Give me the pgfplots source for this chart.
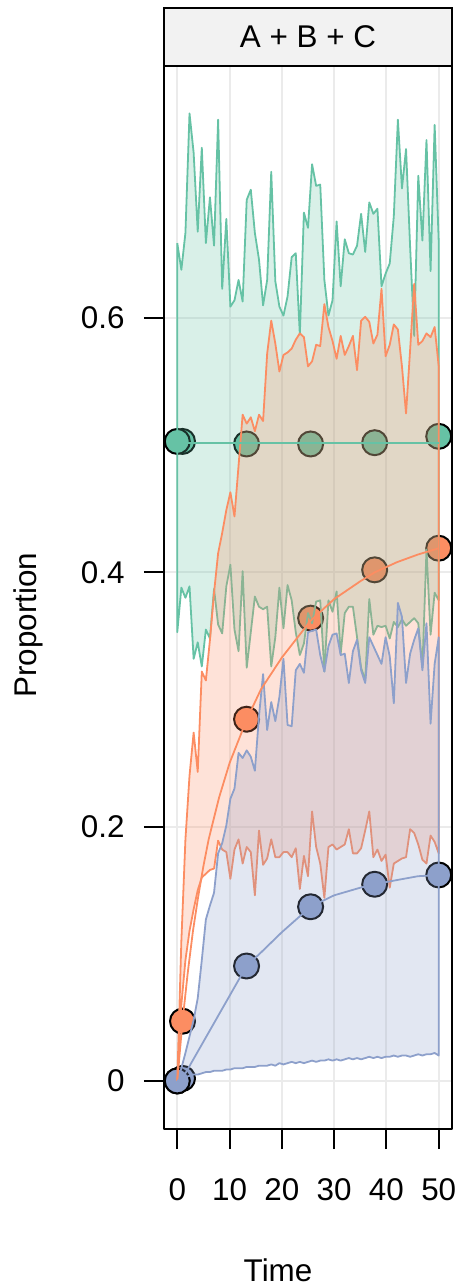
\documentclass[border=0pt]{standalone}
\usepackage{pgfplots}
\pgfplotsset{compat=1.18}
\usepackage{fontspec}
\setmainfont{Liberation Sans}
\definecolor{cg}{HTML}{66C2A5}
\definecolor{co}{HTML}{FC8D62}
\definecolor{cb}{HTML}{8DA0CB}
\definecolor{gridc}{HTML}{EBEBEB}
\definecolor{stripc}{HTML}{F2F2F2}
\newcommand{\lbfont}{\fontsize{15.7}{18}\selectfont}
\begin{document}
\lbfont
\begin{tikzpicture}
\path[use as bounding box] (-82pt,-78pt) rectangle (146.5pt,564.5pt);
\begin{axis}[
  scale only axis, width=144pt, height=531.5pt,
  xmin=-2.54, xmax=52.54, ymin=-0.0378, ymax=0.7983,
  xtick={0,10,20,30,40,50}, ytick={0,0.2,0.4,0.6},
  tick align=outside, major tick length=10pt,
  xtick pos=bottom, ytick pos=left,
  grid=major, major grid style={gridc, line width=1pt},
  axis line style={line width=1pt}, tick style={black, line width=1pt},
  /pgf/number format/assume math mode=true,
  tick label style={font=\lbfont},
  label style={font=\lbfont},
  xticklabel style={yshift=-9.3pt},
  yticklabel style={xshift=-4.3pt},
  xlabel={Time}, ylabel={Proportion},
  xlabel style={at={(axis description cs:0.396,-0.1326)}, anchor=center},
  ylabel style={at={(axis description cs:-0.472,0.474)}, anchor=center},
  clip=false, clip marker paths=true,
  line join=round,
]
% mean points (drawn beneath the bands)
\addplot[only marks, mark=*, mark size=6.25pt, mark options={fill=cg, draw=black, line width=1pt}]
  coordinates {(50,0.507) (37.75,0.502) (25.5,0.501) (13.25,0.501) (1,0.503) (0,0.503)};
\addplot[only marks, mark=*, mark size=6.25pt, mark options={fill=co, draw=black, line width=1pt}]
  coordinates {(50,0.419) (37.75,0.402) (25.5,0.364) (13.25,0.2845) (1,0.047) (0,0)};
\addplot[only marks, mark=*, mark size=6.25pt, mark options={fill=cb, draw=black, line width=1pt}]
  coordinates {(50,0.162) (37.75,0.1547) (25.5,0.137) (13.25,0.0904) (1,0.002) (0,0)};
% green band
\addplot[draw=cg, line width=0.9pt, fill=cg, fill opacity=0.25] coordinates {
(0,0.659) (0.78,0.638) (1.56,0.667) (2.34,0.761) (3.13,0.730) (3.91,0.668) (4.69,0.734) (5.47,0.659) (6.25,0.695) (7.03,0.657)
(7.81,0.756) (8.59,0.623) (9.38,0.678) (10.16,0.609) (10.94,0.614) (11.72,0.630) (12.5,0.613) (13.28,0.693) (14.06,0.701) (14.84,0.667)
(15.63,0.646) (16.41,0.610) (17.19,0.630) (17.97,0.715) (18.75,0.629) (19.53,0.609) (20.31,0.602) (21.09,0.617) (21.88,0.648) (22.66,0.651)
(23.44,0.587) (24.22,0.683) (25,0.671) (25.78,0.721) (26.56,0.704) (27.34,0.705) (28.13,0.630) (28.91,0.602) (29.69,0.614) (30.47,0.676)
(31.25,0.625) (32.03,0.662) (32.81,0.651) (33.59,0.650) (34.38,0.657) (35.16,0.682) (35.94,0.652) (36.72,0.691) (37.5,0.682) (38.28,0.686)
(39.06,0.625) (39.84,0.635) (40.63,0.643) (41.41,0.680) (42.19,0.756) (42.97,0.702) (43.75,0.733) (44.53,0.656) (45.31,0.586) (46.09,0.712)
(46.88,0.661) (47.66,0.740) (48.44,0.637) (49.22,0.752) (50,0.660)
(50,0.378) (49.22,0.384) (48.44,0.351) (47.66,0.418) (46.88,0.325) (46.09,0.360) (45.31,0.364) (44.53,0.361) (43.75,0.358) (42.97,0.363)
(42.19,0.357) (41.41,0.361) (40.63,0.348) (39.84,0.358) (39.06,0.357) (38.28,0.358) (37.5,0.351) (36.72,0.379) (35.94,0.315) (35.16,0.325)
(34.38,0.349) (33.59,0.373) (32.81,0.373) (32.03,0.368) (31.25,0.336) (30.47,0.385) (29.69,0.369) (28.91,0.378) (28.13,0.322) (27.34,0.378)
(26.56,0.377) (25.78,0.360) (25,0.368) (24.22,0.344) (23.44,0.335) (22.66,0.353) (21.88,0.378) (21.09,0.390) (20.31,0.356) (19.53,0.388)
(18.75,0.349) (17.97,0.326) (17.19,0.373) (16.41,0.371) (15.63,0.373) (14.84,0.381) (14.06,0.353) (13.28,0.325) (12.5,0.401) (11.72,0.338)
(10.94,0.355) (10.16,0.406) (9.38,0.389) (8.59,0.352) (7.81,0.359) (7.03,0.387) (6.25,0.348) (5.47,0.355) (4.69,0.326) (3.91,0.345)
(3.13,0.332) (2.34,0.389) (1.56,0.380) (0.78,0.388) (0,0.353) (0,0.659)};
% orange band
\addplot[draw=co, line width=0.9pt, fill=co, fill opacity=0.25] coordinates {
(0,0) (0.78,0.11) (1.56,0.19) (2.34,0.24) (3.13,0.274) (3.91,0.243) (4.69,0.322) (5.47,0.315) (6.25,0.347) (7.03,0.384)
(7.81,0.415) (8.59,0.431) (9.38,0.449) (10.16,0.463) (10.94,0.444) (11.72,0.484) (12.5,0.524) (13.28,0.517) (14.06,0.522) (14.84,0.511)
(15.63,0.524) (16.41,0.519) (17.19,0.572) (17.97,0.598) (18.75,0.580) (19.53,0.558) (20.31,0.571) (21.09,0.573) (21.88,0.576) (22.66,0.583)
(23.44,0.588) (24.22,0.585) (25,0.562) (25.78,0.566) (26.56,0.579) (27.34,0.578) (28.13,0.611) (28.91,0.593) (29.69,0.582) (30.47,0.568)
(31.25,0.586) (32.03,0.571) (32.81,0.578) (33.59,0.586) (34.38,0.559) (35.16,0.598) (35.94,0.601) (36.72,0.597) (37.5,0.580) (38.28,0.587)
(39.06,0.623) (39.84,0.570) (40.63,0.579) (41.41,0.595) (42.19,0.591) (42.97,0.562) (43.75,0.525) (44.53,0.575) (45.31,0.627) (46.09,0.579)
(46.88,0.582) (47.66,0.588) (48.44,0.585) (49.22,0.593) (50,0.562)
(50,0.179) (49.22,0.188) (48.44,0.193) (47.66,0.171) (46.88,0.174) (46.09,0.186) (45.31,0.195) (44.53,0.198) (43.75,0.176) (42.97,0.175)
(42.19,0.173) (41.41,0.171) (40.63,0.152) (39.84,0.178) (39.06,0.173) (38.28,0.182) (37.5,0.176) (36.72,0.212) (35.94,0.197) (35.16,0.183)
(34.38,0.179) (33.59,0.179) (32.81,0.198) (32.03,0.186) (31.25,0.184) (30.47,0.182) (29.69,0.186) (28.91,0.184) (28.13,0.144) (27.34,0.171)
(26.56,0.184) (25.78,0.212) (25,0.161) (24.22,0.177) (23.44,0.151) (22.66,0.183) (21.88,0.176) (21.09,0.180) (20.31,0.180) (19.53,0.176)
(18.75,0.176) (17.97,0.190) (17.19,0.175) (16.41,0.170) (15.63,0.197) (14.84,0.146) (14.06,0.180) (13.28,0.184) (12.5,0.171) (11.72,0.190)
(10.94,0.182) (10.16,0.159) (9.38,0.180) (8.59,0.182) (7.81,0.189) (7.03,0.167) (6.25,0.166) (5.47,0.163) (4.69,0.160) (3.91,0.150)
(3.13,0.135) (2.34,0.118) (1.56,0.095) (0.78,0.06) (0,0)};
% blue band
\addplot[draw=cb, line width=0.9pt, fill=cb, fill opacity=0.25] coordinates {
(0,0) (0.78,0.010) (1.56,0.022) (2.34,0.035) (3.13,0.048) (3.91,0.065) (4.69,0.095) (5.47,0.127) (6.25,0.138) (7.03,0.148)
(7.81,0.179) (8.59,0.187) (9.38,0.201) (10.16,0.222) (10.94,0.230) (11.72,0.258) (12.5,0.254) (13.28,0.260) (14.06,0.255) (14.84,0.244)
(15.63,0.287) (16.41,0.320) (17.19,0.276) (17.97,0.298) (18.75,0.283) (19.53,0.302) (20.31,0.332) (21.09,0.280) (21.88,0.279) (22.66,0.323)
(23.44,0.328) (24.22,0.321) (25,0.353) (25.78,0.354) (26.56,0.355) (27.34,0.335) (28.13,0.322) (28.91,0.342) (29.69,0.351) (30.47,0.352)
(31.25,0.335) (32.03,0.336) (32.81,0.313) (33.59,0.338) (34.38,0.347) (35.16,0.323) (35.94,0.313) (36.72,0.349) (37.5,0.342) (38.28,0.335)
(39.06,0.328) (39.84,0.349) (40.63,0.334) (41.41,0.297) (42.19,0.376) (42.97,0.365) (43.75,0.313) (44.53,0.336) (45.31,0.347) (46.09,0.356)
(46.88,0.323) (47.66,0.360) (48.44,0.281) (49.22,0.328) (50,0.349)
(50,0.020) (49.22,0.022) (48.44,0.021) (47.66,0.021) (46.88,0.020) (46.09,0.021) (45.31,0.020) (44.53,0.019) (43.75,0.020) (42.97,0.020)
(42.19,0.019) (41.41,0.020) (40.63,0.019) (39.84,0.019) (39.06,0.018) (38.28,0.019) (37.5,0.018) (36.72,0.019) (35.94,0.018) (35.16,0.017)
(34.38,0.018) (33.59,0.017) (32.81,0.018) (32.03,0.017) (31.25,0.016) (30.47,0.017) (29.69,0.016) (28.91,0.017) (28.13,0.016) (27.34,0.016)
(26.56,0.015) (25.78,0.016) (25,0.015) (24.22,0.014) (23.44,0.015) (22.66,0.014) (21.88,0.015) (21.09,0.014) (20.31,0.013) (19.53,0.014)
(18.75,0.012) (17.97,0.013) (17.19,0.012) (16.41,0.012) (15.63,0.012) (14.84,0.011) (14.06,0.011) (13.28,0.011) (12.5,0.010) (11.72,0.010)
(10.94,0.010) (10.16,0.009) (9.38,0.009) (8.59,0.008) (7.81,0.008) (7.03,0.008) (6.25,0.007) (5.47,0.007) (4.69,0.006) (3.91,0.005)
(3.13,0.005) (2.34,0.004) (1.56,0.003) (0.78,0.002) (0,0)};
% mean lines
\addplot[cg, line width=0.9pt] coordinates {(0,0.5015) (50,0.5015)};
\addplot[co, line width=0.9pt] coordinates {(0,0) (1,0.047) (2,0.085) (3,0.118) (4,0.145) (5,0.169) (6,0.190) (8,0.223) (10,0.250) (13.25,0.284) (16,0.308) (20,0.333) (25.5,0.362) (30,0.379) (35,0.393) (37.75,0.400) (42,0.408) (46,0.414) (50,0.419)};
\addplot[cb, line width=0.9pt] coordinates {(0,0) (1,0.002) (13.25,0.0904) (16,0.101) (20,0.117) (25.5,0.137) (30,0.146) (35,0.152) (37.75,0.1547) (42,0.158) (46,0.161) (50,0.162)};
\end{axis}
\node[draw=black, line width=1pt, fill=stripc, minimum width=144pt, minimum height=29pt, anchor=south west, inner sep=0pt, outer sep=0pt, font=\lbfont] at (0,531.5pt) {A + B + C};
\end{tikzpicture}
\end{document}
